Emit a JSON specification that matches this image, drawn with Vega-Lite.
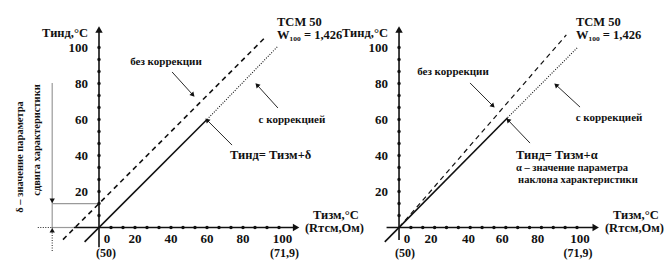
{
"$schema": "https://vega.github.io/schema/vega-lite/v6.json",
"width": 666, "height": 267,
"autosize": {"type": "fit", "contains": "padding"},
"padding": 0,
"background": "white",
"config": {"view": {"stroke": null}, "text": {"font": "Liberation Serif, Times New Roman, serif", "fontWeight": "bold", "color": "#111", "baseline": "middle"}},
"datasets": {
"segs": [
{"p":"L","k":"gray","x":-26,"y":0,"x2":-14,"y2":0},
{"p":"L","k":"gray","x":-26,"y":0,"x2":-26,"y2":80.3},
{"p":"L","k":"gray","x":-26,"y":13.3,"x2":0,"y2":13.3},
{"p":"L","k":"guide","x":-34,"y":0,"x2":-26,"y2":0},
{"p":"L","k":"guide","x":-26,"y":0,"x2":-26,"y2":-13.6},
{"p":"L","k":"axis","x":0,"y":-11,"x2":0,"y2":109},
{"p":"L","k":"axis","x":-14,"y":0,"x2":108,"y2":0},
{"p":"L","k":"measured","x":-8,"y":-8,"x2":60,"y2":60},
{"p":"L","k":"corrected","x":60,"y":60,"x2":99,"y2":100.3},
{"p":"L","k":"uncorrected","x":-20,"y":-6.7,"x2":92,"y2":105.3},
{"p":"L","k":"pointer","x":40.6,"y":86.4,"x2":52.2,"y2":73.6},
{"p":"L","k":"pointer","x":99.4,"y":66.4,"x2":87.8,"y2":79.2},
{"p":"L","k":"pointer","x":73.9,"y":45.8,"x2":60,"y2":59.7},
{"p":"R","k":"axis","x":0,"y":-7,"x2":0,"y2":109},
{"p":"R","k":"axis","x":-7,"y":0,"x2":109,"y2":0},
{"p":"R","k":"measured","x":-8,"y":-8,"x2":61,"y2":61},
{"p":"R","k":"corrected","x":61,"y":61,"x2":100.6,"y2":100.3},
{"p":"R","k":"uncorrected","x":0,"y":0,"x2":94,"y2":107},
{"p":"R","k":"pointer","x":39.9,"y":80.3,"x2":52.8,"y2":67.5},
{"p":"R","k":"pointer","x":101.7,"y":66.9,"x2":88.2,"y2":79.2},
{"p":"R","k":"pointer","x":73.6,"y":46.9,"x2":61.2,"y2":59.7}
],
"heads": [
{"p":"L","k":"axis","x":0,"y":110,"d":0},
{"p":"L","k":"axis","x":109.5,"y":0,"d":90},
{"p":"L","k":"ptr","x":52.2,"y":73.6,"d":137.6},
{"p":"L","k":"ptr","x":87.8,"y":79.2,"d":317.6},
{"p":"L","k":"ptr","x":60,"y":59.7,"d":315},
{"p":"L","k":"ptr","x":-26,"y":-1.5,"d":0},
{"p":"L","k":"ptr","x":-26,"y":14.8,"d":180},
{"p":"R","k":"axis","x":0,"y":110,"d":0},
{"p":"R","k":"axis","x":110.5,"y":0,"d":90},
{"p":"R","k":"ptr","x":52.8,"y":67.5,"d":135},
{"p":"R","k":"ptr","x":88.2,"y":79.2,"d":312.5},
{"p":"R","k":"ptr","x":61.2,"y":59.7,"d":316.3}
],
"dots": [
{"x":6.67,"y":0},{"x":13.33,"y":0},{"x":20,"y":0},{"x":26.67,"y":0},{"x":33.33,"y":0},
{"x":40,"y":0},{"x":46.67,"y":0},{"x":53.33,"y":0},{"x":60,"y":0},{"x":66.67,"y":0},
{"x":73.33,"y":0},{"x":80,"y":0},{"x":86.67,"y":0},{"x":93.33,"y":0},{"x":100,"y":0},
{"x":0,"y":6.67},{"x":0,"y":13.33},{"x":0,"y":20},{"x":0,"y":26.67},{"x":0,"y":33.33},
{"x":0,"y":40},{"x":0,"y":46.67},{"x":0,"y":53.33},{"x":0,"y":60},{"x":0,"y":66.67},
{"x":0,"y":73.33},{"x":0,"y":80},{"x":0,"y":86.67},{"x":0,"y":93.33},{"x":0,"y":100}
],
"texts": [
{"p":"L","r":"ytick","x":-6.1,"y":20,"t":"20"},
{"p":"L","r":"ytick","x":-6.1,"y":40,"t":"40"},
{"p":"L","r":"ytick","x":-6.1,"y":60,"t":"60"},
{"p":"L","r":"ytick","x":-6.1,"y":80,"t":"80"},
{"p":"L","r":"ytick","x":-6.1,"y":100,"t":"100"},
{"p":"L","r":"xtick","x":4.4,"y":-6.4,"t":"0"},
{"p":"L","r":"xtick","x":20,"y":-6.4,"t":"20"},
{"p":"L","r":"xtick","x":40,"y":-6.4,"t":"40"},
{"p":"L","r":"xtick","x":60,"y":-6.4,"t":"60"},
{"p":"L","r":"xtick","x":80,"y":-6.4,"t":"80"},
{"p":"L","r":"xtick","x":102,"y":-6.4,"t":"100"},
{"p":"L","r":"paren","x":3.9,"y":-14.3,"t":"(50)"},
{"p":"L","r":"paren","x":103,"y":-14.3,"t":"(71,9)"},
{"p":"L","r":"label","x":98.9,"y":114.2,"t":"ТСМ 50"},
{"p":"L","r":"label","x":98.9,"y":107,"t":"W₁₀₀ = 1,426"},
{"p":"L","r":"label","x":118.9,"y":6.9,"t":"Тизм,°С"},
{"p":"L","r":"label","x":114.4,"y":-0.3,"t":"(Rтсм,Ом)"},
{"p":"L","r":"label","x":72.8,"y":40.3,"t":"Тинд= Тизм+δ"},
{"p":"L","r":"ytitle","x":-6.1,"y":108,"t":"Тинд,°С"},
{"p":"L","r":"note","x":37.2,"y":91.9,"t":"без коррекции"},
{"p":"L","r":"note","x":107.2,"y":59.7,"t":"с коррекцией"},
{"p":"L","r":"vert","x":-43.9,"y":39.2,"t":"δ – значение параметра"},
{"p":"L","r":"vert","x":-34.4,"y":48.6,"t":"сдвига характеристики"},
{"p":"R","r":"ytick","x":-6.2,"y":20,"t":"20"},
{"p":"R","r":"ytick","x":-6.2,"y":40,"t":"40"},
{"p":"R","r":"ytick","x":-6.2,"y":60,"t":"60"},
{"p":"R","r":"ytick","x":-6.2,"y":80,"t":"80"},
{"p":"R","r":"ytick","x":-6.2,"y":100,"t":"100"},
{"p":"R","r":"xtick","x":4.5,"y":-6.4,"t":"0"},
{"p":"R","r":"xtick","x":18,"y":-6.4,"t":"20"},
{"p":"R","r":"xtick","x":39,"y":-6.4,"t":"40"},
{"p":"R","r":"xtick","x":58,"y":-6.4,"t":"60"},
{"p":"R","r":"xtick","x":78,"y":-6.4,"t":"80"},
{"p":"R","r":"xtick","x":101.7,"y":-6.4,"t":"100"},
{"p":"R","r":"paren","x":3.4,"y":-14.3,"t":"(50)"},
{"p":"R","r":"paren","x":100.6,"y":-14.3,"t":"(71,9)"},
{"p":"R","r":"label","x":99.4,"y":114.2,"t":"ТСМ 50"},
{"p":"R","r":"label","x":99.4,"y":107,"t":"W₁₀₀ = 1,426"},
{"p":"R","r":"label","x":120.2,"y":6.9,"t":"Тизм,°С"},
{"p":"R","r":"label","x":115.7,"y":-0.3,"t":"(Rтсм,Ом)"},
{"p":"R","r":"label","x":65.7,"y":40.3,"t":"Тинд= Тизм+α"},
{"p":"R","r":"small","x":65.7,"y":33,"t":"α – значение параметра"},
{"p":"R","r":"small","x":66.9,"y":26.4,"t":"наклона характеристики"},
{"p":"R","r":"ytitle","x":-6.2,"y":108,"t":"Тинд,°С"},
{"p":"R","r":"note","x":30.3,"y":86.4,"t":"без коррекции"},
{"p":"R","r":"note","x":118,"y":60.8,"t":"с коррекцией"}
]
},
"layer": [
{"layer": [
{"data":{"name":"segs"},"transform":[{"filter":"datum.p==='L' && datum.k==='gray'"}],
 "mark":{"type":"rule","color":"#9a9a9a","strokeWidth":1.2},
 "encoding":{"x":{"field":"x","type":"quantitative","scale":{"domain":[-55,315],"nice":false,"zero":false},"axis":null},"y":{"field":"y","type":"quantitative","scale":{"domain":[-21.94,126.39],"nice":false,"zero":false},"axis":null},"x2":{"field":"x2"},"y2":{"field":"y2"}}},
{"data":{"name":"segs"},"transform":[{"filter":"datum.p==='L' && datum.k==='guide'"}],
 "mark":{"type":"rule","color":"#222","strokeWidth":1,"strokeDash":[1,1.5]},
 "encoding":{"x":{"field":"x","type":"quantitative","scale":{"domain":[-55,315],"nice":false,"zero":false},"axis":null},"y":{"field":"y","type":"quantitative","scale":{"domain":[-21.94,126.39],"nice":false,"zero":false},"axis":null},"x2":{"field":"x2"},"y2":{"field":"y2"}}},
{"data":{"name":"segs"},"transform":[{"filter":"datum.p==='L' && (datum.k==='axis' || datum.k==='measured')"}],
 "mark":{"type":"rule","color":"#111","strokeWidth":1.6},
 "encoding":{"x":{"field":"x","type":"quantitative","scale":{"domain":[-55,315],"nice":false,"zero":false},"axis":null},"y":{"field":"y","type":"quantitative","scale":{"domain":[-21.94,126.39],"nice":false,"zero":false},"axis":null},"x2":{"field":"x2"},"y2":{"field":"y2"}}},
{"data":{"name":"segs"},"transform":[{"filter":"datum.p==='L' && datum.k==='uncorrected'"}],
 "mark":{"type":"rule","color":"#111","strokeWidth":1.6,"strokeDash":[5,4]},
 "encoding":{"x":{"field":"x","type":"quantitative","scale":{"domain":[-55,315],"nice":false,"zero":false},"axis":null},"y":{"field":"y","type":"quantitative","scale":{"domain":[-21.94,126.39],"nice":false,"zero":false},"axis":null},"x2":{"field":"x2"},"y2":{"field":"y2"}}},
{"data":{"name":"segs"},"transform":[{"filter":"datum.p==='L' && datum.k==='corrected'"}],
 "mark":{"type":"rule","color":"#111","strokeWidth":1.1,"strokeDash":[1,1.5]},
 "encoding":{"x":{"field":"x","type":"quantitative","scale":{"domain":[-55,315],"nice":false,"zero":false},"axis":null},"y":{"field":"y","type":"quantitative","scale":{"domain":[-21.94,126.39],"nice":false,"zero":false},"axis":null},"x2":{"field":"x2"},"y2":{"field":"y2"}}},
{"data":{"name":"segs"},"transform":[{"filter":"datum.p==='L' && datum.k==='pointer'"}],
 "mark":{"type":"rule","color":"#111","strokeWidth":0.9},
 "encoding":{"x":{"field":"x","type":"quantitative","scale":{"domain":[-55,315],"nice":false,"zero":false},"axis":null},"y":{"field":"y","type":"quantitative","scale":{"domain":[-21.94,126.39],"nice":false,"zero":false},"axis":null},"x2":{"field":"x2"},"y2":{"field":"y2"}}},
{"data":{"name":"heads"},"transform":[{"filter":"datum.p==='L' && datum.k==='axis'"}],
 "mark":{"type":"point","shape":"triangle-up","filled":true,"color":"#111","size":55,"opacity":1},
 "encoding":{"x":{"field":"x","type":"quantitative","scale":{"domain":[-55,315],"nice":false,"zero":false},"axis":null},"y":{"field":"y","type":"quantitative","scale":{"domain":[-21.94,126.39],"nice":false,"zero":false},"axis":null},"angle":{"field":"d","type":"quantitative","scale":null}}},
{"data":{"name":"heads"},"transform":[{"filter":"datum.p==='L' && datum.k==='ptr'"}],
 "mark":{"type":"point","shape":"triangle-up","filled":true,"color":"#111","size":28,"opacity":1},
 "encoding":{"x":{"field":"x","type":"quantitative","scale":{"domain":[-55,315],"nice":false,"zero":false},"axis":null},"y":{"field":"y","type":"quantitative","scale":{"domain":[-21.94,126.39],"nice":false,"zero":false},"axis":null},"angle":{"field":"d","type":"quantitative","scale":null}}},
{"data":{"name":"dots"},
 "mark":{"type":"point","shape":"circle","filled":true,"color":"#111","size":12,"opacity":1},
 "encoding":{"x":{"field":"x","type":"quantitative","scale":{"domain":[-55,315],"nice":false,"zero":false},"axis":null},"y":{"field":"y","type":"quantitative","scale":{"domain":[-21.94,126.39],"nice":false,"zero":false},"axis":null}}},
{"data":{"name":"texts"},"transform":[{"filter":"datum.p==='L' && datum.r==='ytick'"}],
 "mark":{"type":"text","fontSize":13,"align":"right"},
 "encoding":{"x":{"field":"x","type":"quantitative","scale":{"domain":[-55,315],"nice":false,"zero":false},"axis":null},"y":{"field":"y","type":"quantitative","scale":{"domain":[-21.94,126.39],"nice":false,"zero":false},"axis":null},"text":{"field":"t"}}},
{"data":{"name":"texts"},"transform":[{"filter":"datum.p==='L' && datum.r==='xtick'"}],
 "mark":{"type":"text","fontSize":13,"align":"center"},
 "encoding":{"x":{"field":"x","type":"quantitative","scale":{"domain":[-55,315],"nice":false,"zero":false},"axis":null},"y":{"field":"y","type":"quantitative","scale":{"domain":[-21.94,126.39],"nice":false,"zero":false},"axis":null},"text":{"field":"t"}}},
{"data":{"name":"texts"},"transform":[{"filter":"datum.p==='L' && datum.r==='paren'"}],
 "mark":{"type":"text","fontSize":12,"align":"center"},
 "encoding":{"x":{"field":"x","type":"quantitative","scale":{"domain":[-55,315],"nice":false,"zero":false},"axis":null},"y":{"field":"y","type":"quantitative","scale":{"domain":[-21.94,126.39],"nice":false,"zero":false},"axis":null},"text":{"field":"t"}}},
{"data":{"name":"texts"},"transform":[{"filter":"datum.p==='L' && datum.r==='label'"}],
 "mark":{"type":"text","fontSize":12.5,"align":"left"},
 "encoding":{"x":{"field":"x","type":"quantitative","scale":{"domain":[-55,315],"nice":false,"zero":false},"axis":null},"y":{"field":"y","type":"quantitative","scale":{"domain":[-21.94,126.39],"nice":false,"zero":false},"axis":null},"text":{"field":"t"}}},
{"data":{"name":"texts"},"transform":[{"filter":"datum.p==='L' && datum.r==='ytitle'"}],
 "mark":{"type":"text","fontSize":12.5,"align":"right"},
 "encoding":{"x":{"field":"x","type":"quantitative","scale":{"domain":[-55,315],"nice":false,"zero":false},"axis":null},"y":{"field":"y","type":"quantitative","scale":{"domain":[-21.94,126.39],"nice":false,"zero":false},"axis":null},"text":{"field":"t"}}},
{"data":{"name":"texts"},"transform":[{"filter":"datum.p==='L' && datum.r==='note'"}],
 "mark":{"type":"text","fontSize":11,"align":"center"},
 "encoding":{"x":{"field":"x","type":"quantitative","scale":{"domain":[-55,315],"nice":false,"zero":false},"axis":null},"y":{"field":"y","type":"quantitative","scale":{"domain":[-21.94,126.39],"nice":false,"zero":false},"axis":null},"text":{"field":"t"}}},
{"data":{"name":"texts"},"transform":[{"filter":"datum.p==='L' && datum.r==='vert'"}],
 "mark":{"type":"text","fontSize":10.5,"align":"center","angle":270},
 "encoding":{"x":{"field":"x","type":"quantitative","scale":{"domain":[-55,315],"nice":false,"zero":false},"axis":null},"y":{"field":"y","type":"quantitative","scale":{"domain":[-21.94,126.39],"nice":false,"zero":false},"axis":null},"text":{"field":"t"}}}
]},
{"layer": [
{"data":{"name":"segs"},"transform":[{"filter":"datum.p==='R' && (datum.k==='axis' || datum.k==='measured')"}],
 "mark":{"type":"rule","color":"#111","strokeWidth":1.6},
 "encoding":{"x":{"field":"x","type":"quantitative","scale":{"domain":[-224.2,150],"nice":false,"zero":false},"axis":null},"y":{"field":"y","type":"quantitative","scale":{"domain":[-21.94,126.39],"nice":false,"zero":false},"axis":null},"x2":{"field":"x2"},"y2":{"field":"y2"}}},
{"data":{"name":"segs"},"transform":[{"filter":"datum.p==='R' && datum.k==='uncorrected'"}],
 "mark":{"type":"rule","color":"#111","strokeWidth":1.2,"strokeDash":[5,4]},
 "encoding":{"x":{"field":"x","type":"quantitative","scale":{"domain":[-224.2,150],"nice":false,"zero":false},"axis":null},"y":{"field":"y","type":"quantitative","scale":{"domain":[-21.94,126.39],"nice":false,"zero":false},"axis":null},"x2":{"field":"x2"},"y2":{"field":"y2"}}},
{"data":{"name":"segs"},"transform":[{"filter":"datum.p==='R' && datum.k==='corrected'"}],
 "mark":{"type":"rule","color":"#111","strokeWidth":1.1,"strokeDash":[1,1.5]},
 "encoding":{"x":{"field":"x","type":"quantitative","scale":{"domain":[-224.2,150],"nice":false,"zero":false},"axis":null},"y":{"field":"y","type":"quantitative","scale":{"domain":[-21.94,126.39],"nice":false,"zero":false},"axis":null},"x2":{"field":"x2"},"y2":{"field":"y2"}}},
{"data":{"name":"segs"},"transform":[{"filter":"datum.p==='R' && datum.k==='pointer'"}],
 "mark":{"type":"rule","color":"#111","strokeWidth":0.9},
 "encoding":{"x":{"field":"x","type":"quantitative","scale":{"domain":[-224.2,150],"nice":false,"zero":false},"axis":null},"y":{"field":"y","type":"quantitative","scale":{"domain":[-21.94,126.39],"nice":false,"zero":false},"axis":null},"x2":{"field":"x2"},"y2":{"field":"y2"}}},
{"data":{"name":"heads"},"transform":[{"filter":"datum.p==='R' && datum.k==='axis'"}],
 "mark":{"type":"point","shape":"triangle-up","filled":true,"color":"#111","size":55,"opacity":1},
 "encoding":{"x":{"field":"x","type":"quantitative","scale":{"domain":[-224.2,150],"nice":false,"zero":false},"axis":null},"y":{"field":"y","type":"quantitative","scale":{"domain":[-21.94,126.39],"nice":false,"zero":false},"axis":null},"angle":{"field":"d","type":"quantitative","scale":null}}},
{"data":{"name":"heads"},"transform":[{"filter":"datum.p==='R' && datum.k==='ptr'"}],
 "mark":{"type":"point","shape":"triangle-up","filled":true,"color":"#111","size":28,"opacity":1},
 "encoding":{"x":{"field":"x","type":"quantitative","scale":{"domain":[-224.2,150],"nice":false,"zero":false},"axis":null},"y":{"field":"y","type":"quantitative","scale":{"domain":[-21.94,126.39],"nice":false,"zero":false},"axis":null},"angle":{"field":"d","type":"quantitative","scale":null}}},
{"data":{"name":"dots"},
 "mark":{"type":"point","shape":"circle","filled":true,"color":"#111","size":12,"opacity":1},
 "encoding":{"x":{"field":"x","type":"quantitative","scale":{"domain":[-224.2,150],"nice":false,"zero":false},"axis":null},"y":{"field":"y","type":"quantitative","scale":{"domain":[-21.94,126.39],"nice":false,"zero":false},"axis":null}}},
{"data":{"name":"texts"},"transform":[{"filter":"datum.p==='R' && datum.r==='ytick'"}],
 "mark":{"type":"text","fontSize":13,"align":"right"},
 "encoding":{"x":{"field":"x","type":"quantitative","scale":{"domain":[-224.2,150],"nice":false,"zero":false},"axis":null},"y":{"field":"y","type":"quantitative","scale":{"domain":[-21.94,126.39],"nice":false,"zero":false},"axis":null},"text":{"field":"t"}}},
{"data":{"name":"texts"},"transform":[{"filter":"datum.p==='R' && datum.r==='xtick'"}],
 "mark":{"type":"text","fontSize":13,"align":"center"},
 "encoding":{"x":{"field":"x","type":"quantitative","scale":{"domain":[-224.2,150],"nice":false,"zero":false},"axis":null},"y":{"field":"y","type":"quantitative","scale":{"domain":[-21.94,126.39],"nice":false,"zero":false},"axis":null},"text":{"field":"t"}}},
{"data":{"name":"texts"},"transform":[{"filter":"datum.p==='R' && datum.r==='paren'"}],
 "mark":{"type":"text","fontSize":12,"align":"center"},
 "encoding":{"x":{"field":"x","type":"quantitative","scale":{"domain":[-224.2,150],"nice":false,"zero":false},"axis":null},"y":{"field":"y","type":"quantitative","scale":{"domain":[-21.94,126.39],"nice":false,"zero":false},"axis":null},"text":{"field":"t"}}},
{"data":{"name":"texts"},"transform":[{"filter":"datum.p==='R' && datum.r==='label'"}],
 "mark":{"type":"text","fontSize":12.5,"align":"left"},
 "encoding":{"x":{"field":"x","type":"quantitative","scale":{"domain":[-224.2,150],"nice":false,"zero":false},"axis":null},"y":{"field":"y","type":"quantitative","scale":{"domain":[-21.94,126.39],"nice":false,"zero":false},"axis":null},"text":{"field":"t"}}},
{"data":{"name":"texts"},"transform":[{"filter":"datum.p==='R' && datum.r==='small'"}],
 "mark":{"type":"text","fontSize":10.5,"align":"left"},
 "encoding":{"x":{"field":"x","type":"quantitative","scale":{"domain":[-224.2,150],"nice":false,"zero":false},"axis":null},"y":{"field":"y","type":"quantitative","scale":{"domain":[-21.94,126.39],"nice":false,"zero":false},"axis":null},"text":{"field":"t"}}},
{"data":{"name":"texts"},"transform":[{"filter":"datum.p==='R' && datum.r==='ytitle'"}],
 "mark":{"type":"text","fontSize":12.5,"align":"right"},
 "encoding":{"x":{"field":"x","type":"quantitative","scale":{"domain":[-224.2,150],"nice":false,"zero":false},"axis":null},"y":{"field":"y","type":"quantitative","scale":{"domain":[-21.94,126.39],"nice":false,"zero":false},"axis":null},"text":{"field":"t"}}},
{"data":{"name":"texts"},"transform":[{"filter":"datum.p==='R' && datum.r==='note'"}],
 "mark":{"type":"text","fontSize":11,"align":"center"},
 "encoding":{"x":{"field":"x","type":"quantitative","scale":{"domain":[-224.2,150],"nice":false,"zero":false},"axis":null},"y":{"field":"y","type":"quantitative","scale":{"domain":[-21.94,126.39],"nice":false,"zero":false},"axis":null},"text":{"field":"t"}}}
]}
],
"resolve": {"scale": {"x": "independent"}}
}
